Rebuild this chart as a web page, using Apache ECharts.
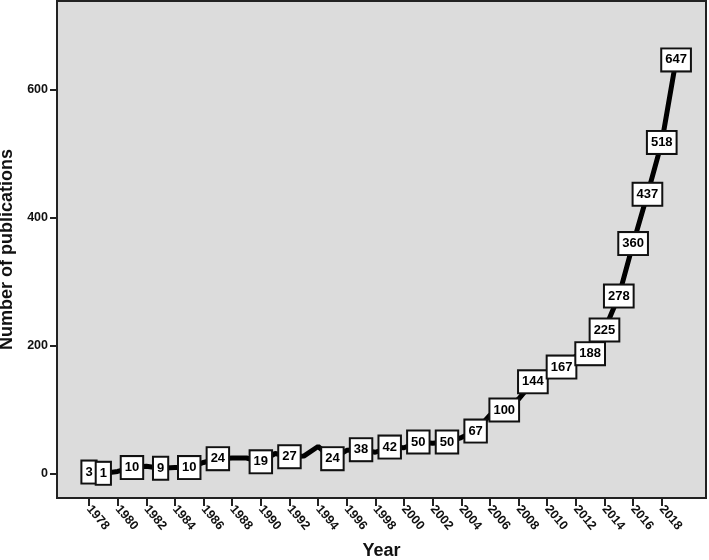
<!DOCTYPE html>
<html>
<head>
<meta charset="utf-8">
<script src="https://cdn.jsdelivr.net/npm/echarts@6/dist/echarts.min.js"></script>
<style>
html,body{margin:0;padding:0;background:#fff;}
#chart{width:709px;height:560px;}
</style>
</head>
<body>
<div id="chart"></div>
<script>
const years = [1978,1979,1980,1981,1982,1983,1984,1985,1986,1987,1988,1989,1990,1991,1992,1993,1994,1995,1996,1997,1998,1999,2000,2001,2002,2003,2004,2005,2006,2007,2008,2009,2010,2011,2012,2013,2014,2015,2016,2017,2018,2019];
const publications = [3,1,4,10,12,9,10,10,18,24,25,25,19,32,27,28,43,24,37,38,34,42,41,50,48,50,57,67,92,100,117,144,151,167,184,188,225,278,360,437,518,647];
const labeledYears = [1978,1979,1981,1983,1985,1987,1990,1992,1995,1997,1999,2001,2003,2005,2007,2009,2011,2013,2014,2015,2016,2017,2018,2019];
const xTicks = [1978,1980,1982,1984,1986,1988,1990,1992,1994,1996,1998,2000,2002,2004,2006,2008,2010,2012,2014,2016,2018];
const yTicks = [0,200,400,600];

const FONT = '"Liberation Sans", Arial, sans-serif';
const chart = echarts.init(document.getElementById('chart'), null, {renderer: 'canvas'});

const seriesData = years.map((y, i) => ({
  value: [y, publications[i]],
  label: {show: labeledYears.indexOf(y) >= 0}
}));

chart.setOption({
  animation: false,
  backgroundColor: '#ffffff',
  grid: {
    left: 57, right: 3, top: 1, bottom: 62,
    containLabel: false, outerBoundsMode: 'none',
    show: true, backgroundColor: '#dcdcdc', borderColor: '#222', borderWidth: 2
  },
  xAxis: {
    type: 'value',
    min: 1975.765, max: 2021.09,
    splitLine: {show: false},
    axisLine: {show: true, onZero: false, lineStyle: {color: '#222', width: 2}},
    axisTick: {show: true, length: 8, customValues: xTicks, lineStyle: {color: '#222', width: 2}},
    axisLabel: {
      customValues: xTicks, rotate: -50, margin: 9,
      color: '#111', fontFamily: FONT, fontWeight: 'bold', fontSize: 12.5,
      formatter: v => String(v)
    },
    name: 'Year', nameLocation: 'middle', nameGap: 44,
    nameTextStyle: {color: '#111', fontFamily: FONT, fontWeight: 'bold', fontSize: 18}
  },
  yAxis: {
    type: 'value',
    min: -37.5, max: 739,
    splitLine: {show: false},
    axisLine: {show: true, lineStyle: {color: '#222', width: 2}},
    axisTick: {show: true, length: 7, customValues: yTicks, lineStyle: {color: '#222', width: 2}},
    axisLabel: {
      customValues: yTicks, margin: 9,
      color: '#111', fontFamily: FONT, fontWeight: 'bold', fontSize: 12.5,
      formatter: v => String(v)
    },
    name: 'Number of publications', nameLocation: 'middle', nameGap: 38,
    nameTextStyle: {color: '#111', fontFamily: FONT, fontWeight: 'bold', fontSize: 18}
  },
  series: [{
    type: 'line',
    data: seriesData,
    symbol: 'circle', symbolSize: 1,
    itemStyle: {color: '#000'},
    lineStyle: {color: '#000', width: 5},
    label: {
      position: 'inside',
      formatter: p => String(p.value[1]),
      color: '#000', fontFamily: FONT, fontWeight: 'bold', fontSize: 13, lineHeight: 15,
      backgroundColor: '#fff', borderColor: '#111', borderWidth: 2,
      padding: [3, 3, 3, 3]
    },
    z: 3
  }]
});
</script>
</body>
</html>
